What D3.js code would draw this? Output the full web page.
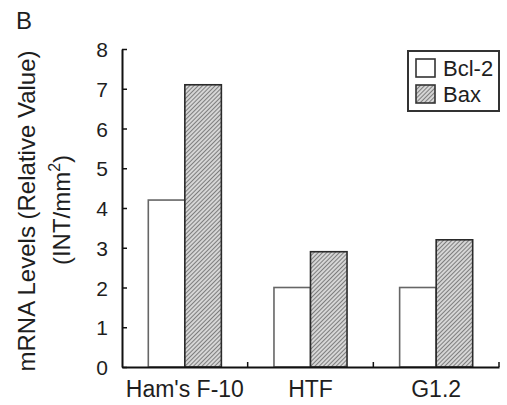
<!DOCTYPE html>
<html>
<head>
<meta charset="utf-8">
<script src="https://cdn.jsdelivr.net/npm/d3@7"></script>
<style>
  body { margin: 0; background: #fff; }
  text { font-family: "Liberation Sans", Arial, sans-serif; fill: #1e1e1e; }
</style>
</head>
<body>
<svg id="chart" width="507" height="405"></svg>
<script>
// data
const categories = ["Ham's F-10", "HTF", "G1.2"];
const seriesNames = ["Bcl-2", "Bax"];
const bcl2 = [4.2, 2.0, 2.0];
const bax = [7.1, 2.9, 3.2];
const yTicks = [0, 1, 2, 3, 4, 5, 6, 7, 8];

const svg = d3.select('#chart');
const m = { left: 122, right: 499, top: 49, bottom: 367 };

// hatched fill for Bax
const defs = svg.append('defs');
const pat = defs.append('pattern')
  .attr('id', 'hatch').attr('patternUnits', 'userSpaceOnUse')
  .attr('width', 3).attr('height', 3)
  .attr('patternTransform', 'rotate(-45)');
pat.append('rect').attr('width', 3).attr('height', 3).attr('fill', '#d6d6d6');
pat.append('line').attr('x1', 0).attr('y1', 0).attr('x2', 3).attr('y2', 0)
  .attr('stroke', '#606060').attr('stroke-width', 1.5);

const x0 = d3.scaleBand().domain(categories).range([m.left, m.right]).padding(0);
const x1 = d3.scaleBand().domain(seriesNames).range([0, x0.bandwidth()])
  .paddingInner(0).paddingOuter(0.72);
const y = d3.scaleLinear().domain([0, 8]).range([m.bottom, m.top]);

const rows = categories.map((c, i) => ({ cat: c, vals: [
  { s: 'Bcl-2', v: bcl2[i] }, { s: 'Bax', v: bax[i] }] }));

const groups = svg.append('g').selectAll('g').data(rows).enter().append('g')
  .attr('transform', d => `translate(${x0(d.cat)},0)`);
groups.selectAll('rect').data(d => d.vals).enter().append('rect')
  .attr('x', d => x1(d.s))
  .attr('y', d => y(d.v))
  .attr('width', x1.bandwidth())
  .attr('height', d => y(0) - y(d.v))
  .attr('fill', d => d.s === 'Bax' ? 'url(#hatch)' : '#fff')
  .attr('stroke', d => d.s === 'Bax' ? '#2a2a2a' : '#666')
  .attr('stroke-width', 1.6);

// y axis, ticks pointing inward
const yAxis = d3.axisLeft(y).tickValues(yTicks).tickSizeInner(-5).tickSizeOuter(0).tickPadding(14);
const gy = svg.append('g').attr('transform', `translate(${m.left},0)`).call(yAxis);
gy.select('.domain').attr('stroke', '#111').attr('stroke-width', 2);
gy.selectAll('.tick line').attr('stroke', '#111').attr('stroke-width', 1.5);
gy.selectAll('.tick text').attr('font-size', 21).attr('dy', '0.36em')
  .attr('font-family', '"Liberation Sans", Arial, sans-serif').attr('fill', '#1e1e1e');

// x axis, category labels + separator ticks
const xAxis = d3.axisBottom(x0).tickSize(0).tickPadding(14);
const gx = svg.append('g').attr('transform', `translate(0,${m.bottom})`).call(xAxis);
gx.select('.domain').attr('stroke', '#111').attr('stroke-width', 2);
gx.selectAll('.tick text').attr('font-size', 23).attr('dy', '0.71em')
  .attr('font-family', '"Liberation Sans", Arial, sans-serif').attr('fill', '#1e1e1e');
gx.selectAll('.sep').data(categories).enter().append('line')
  .attr('x1', d => x0(d) + x0.bandwidth()).attr('x2', d => x0(d) + x0.bandwidth())
  .attr('y1', 0).attr('y2', -5).attr('stroke', '#111').attr('stroke-width', 1.5);

// y axis title, two lines
const yt = svg.append('text').attr('transform', 'translate(35,211) rotate(-90)')
  .attr('text-anchor', 'middle').attr('font-size', 24);
yt.text('mRNA Levels (Relative Value)');
const yt2 = svg.append('text').attr('transform', 'translate(70,210) rotate(-90)')
  .attr('text-anchor', 'middle').attr('font-size', 24);
yt2.append('tspan').text('(INT/mm');
yt2.append('tspan').attr('font-size', 16).attr('dy', -10).text('2');
yt2.append('tspan').attr('dy', 10).text(')');

// panel letter
svg.append('text').attr('x', 16).attr('y', 29).attr('font-size', 24).text('B');

// legend
const lg = svg.append('g');
lg.append('rect').attr('x', 408).attr('y', 51).attr('width', 91).attr('height', 60)
  .attr('fill', '#fff').attr('stroke', '#333').attr('stroke-width', 2);
const items = lg.selectAll('g').data(seriesNames).enter().append('g')
  .attr('transform', (d, i) => `translate(416,${59 + i * 26})`);
items.append('rect').attr('width', 19).attr('height', 18)
  .attr('fill', d => d === 'Bax' ? 'url(#hatch)' : '#fff')
  .attr('stroke', '#333').attr('stroke-width', 1.6);
items.append('text').attr('x', 27).attr('y', 17).attr('font-size', 22).text(d => d);
</script>
</body>
</html>
